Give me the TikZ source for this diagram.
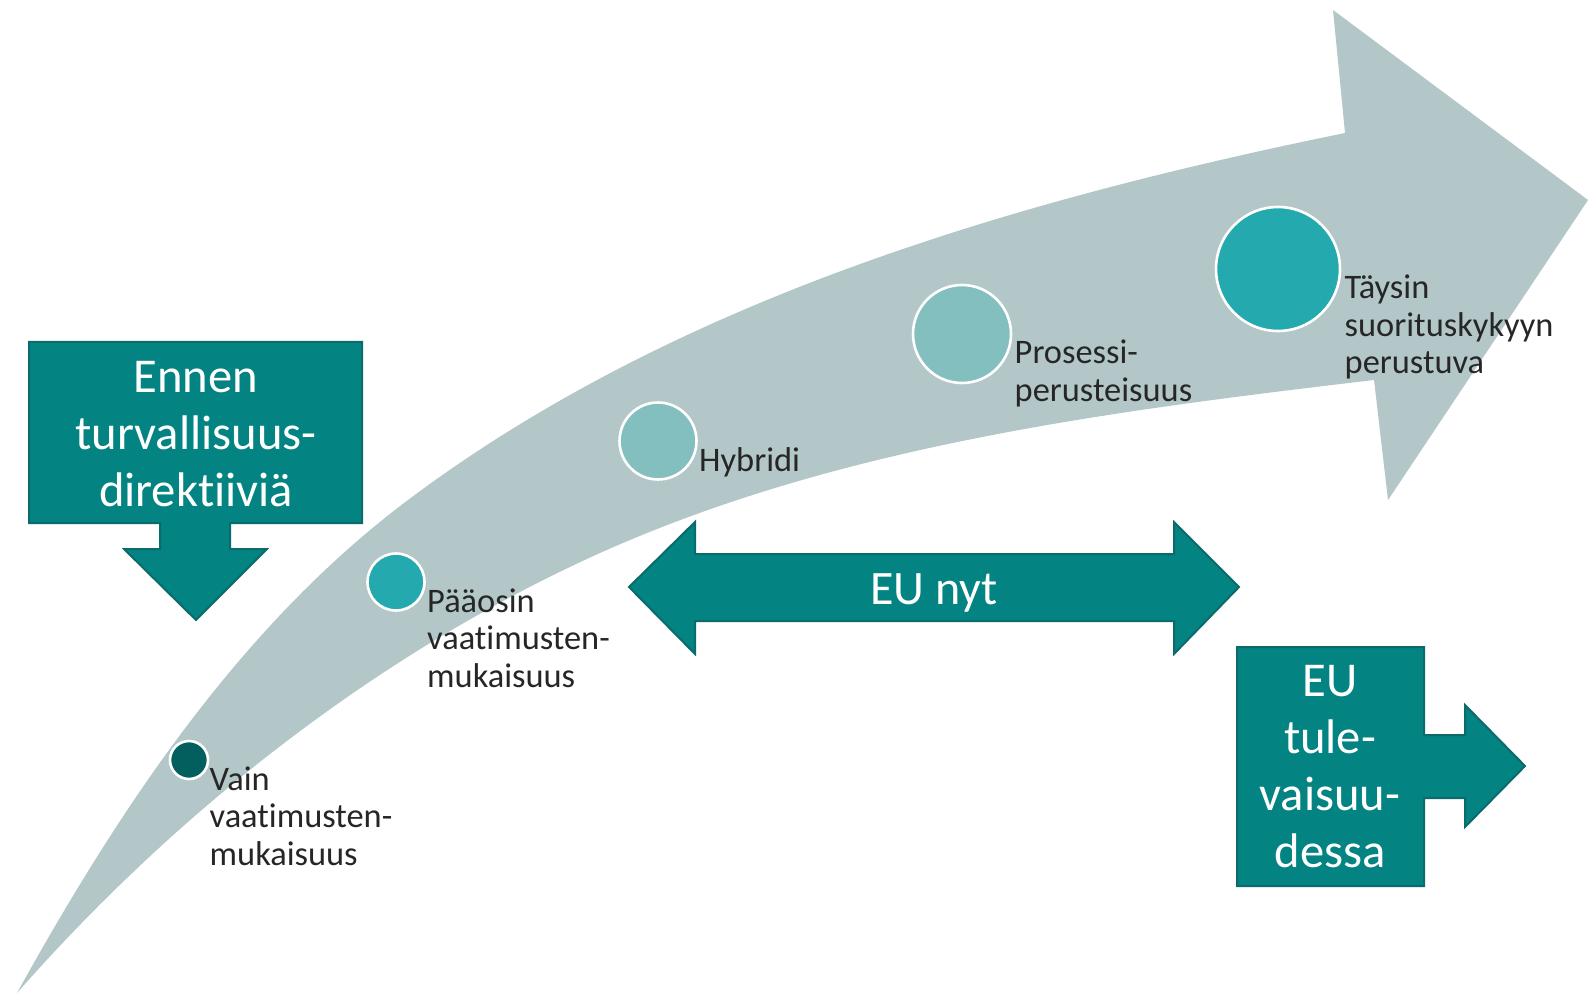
\documentclass[tikz,border=0pt]{standalone}
\usepackage{fontspec}
\setmainfont{Carlito}[Ligatures={NoCommon}]
\usetikzlibrary{positioning}
\definecolor{band}{HTML}{B3C7C8}
\definecolor{tealbox}{HTML}{038382}
\definecolor{tealedge}{HTML}{0B6A6A}
\definecolor{dotdark}{HTML}{035E5E}
\definecolor{dotmid}{HTML}{23A9AE}
\definecolor{dotlight}{HTML}{84BFBF}
\definecolor{txt}{HTML}{262626}
\begin{document}
\begin{tikzpicture}[x=0.5pt, y=-0.5pt,
    dot/.style={circle, draw=white, line width=1.3pt, inner sep=0pt, minimum size=#1},
    lbl/.style={anchor=base west, inner sep=0pt, text=txt, font=\fontsize{17.2}{18.75}\selectfont},
    box/.style={fill=tealbox, draw=tealedge, line width=1pt},
    boxtext/.style={anchor=base, inner sep=0pt, text=white, font=\fontsize{24.3}{28.5}\selectfont}]
\useasboundingbox (0,0) rectangle (1588,994);

% the big curved arrow
\fill[band] (17,993) .. controls (119,809) and (240,626) .. (408,500)
    .. controls (676,299) and (1017,200) .. (1345,133)
    -- (1333,10) -- (1588,200) -- (1388,500) -- (1374,380)
    .. controls (1112,411) and (841,445) .. (600,553)
    .. controls (378,653) and (177,811) .. (17,993) -- cycle;

% stages
\node[dot=19pt, fill=dotdark] (vain) at (189,760) {};
\node[dot=28.5pt, fill=dotmid] (paaosin) at (396,582) {};
\node[dot=38.5pt, fill=dotlight] (hybridi) at (658,441) {};
\node[dot=49pt, fill=dotlight] (prosessi) at (962,334) {};
\node[dot=62pt, fill=dotmid] (taysin) at (1278,269) {};

\node[lbl] (vainlbl) at ([shift={(0,30)}]vain.east) {\begin{tabular}[t]{@{}l@{}}Vain\\vaatimusten-\\mukaisuus\end{tabular}};
\node[lbl] (paaosinlbl) at ([shift={(1,30)}]paaosin.east) {\begin{tabular}[t]{@{}l@{}}Pääosin\\vaatimusten-\\mukaisuus\end{tabular}};
\node[lbl] (hybridilbl) at ([shift={(1,30)}]hybridi.east) {Hybridi};
\node[lbl] (prosessilbl) at ([shift={(2,30)}]prosessi.east) {\begin{tabular}[t]{@{}l@{}}Prosessi-\\perusteisuus\end{tabular}};
\node[lbl] (taysinlbl) at ([shift={(3,30)}]taysin.east) {\begin{tabular}[t]{@{}l@{}}Täysin\\suorituskykyyn\\perustuva\end{tabular}};

% callouts
\draw[box] (29,342) -- (362,342) -- (362,523) -- (230,523) -- (230,549) -- (267,549) -- (196,620)
    -- (124,549) -- (160,549) -- (160,523) -- (29,523) -- cycle;
\node[boxtext] (ennen) at (196,392) {\begin{tabular}[t]{@{}c@{}}Ennen\\turvallisuus-\\direktiiviä\end{tabular}};

\draw[box] (629,587) -- (695,522) -- (695,554) -- (1174,554) -- (1174,522) -- (1239,587)
    -- (1174,654) -- (1174,621) -- (695,621) -- (695,654) -- cycle;
\node[boxtext, font=\fontsize{24}{28}\selectfont] (nyt) at (934,604) {EU nyt};

\draw[box] (1237,647) -- (1424,647) -- (1424,735) -- (1465,735) -- (1465,705) -- (1525,766)
    -- (1465,827) -- (1465,798) -- (1424,798) -- (1424,886) -- (1237,886) -- cycle;
\node[boxtext] (tuleva) at (1330,696) {\begin{tabular}[t]{@{}c@{}}EU\\tule-\\vaisuu-\\dessa\end{tabular}};

\end{tikzpicture}
\end{document}
